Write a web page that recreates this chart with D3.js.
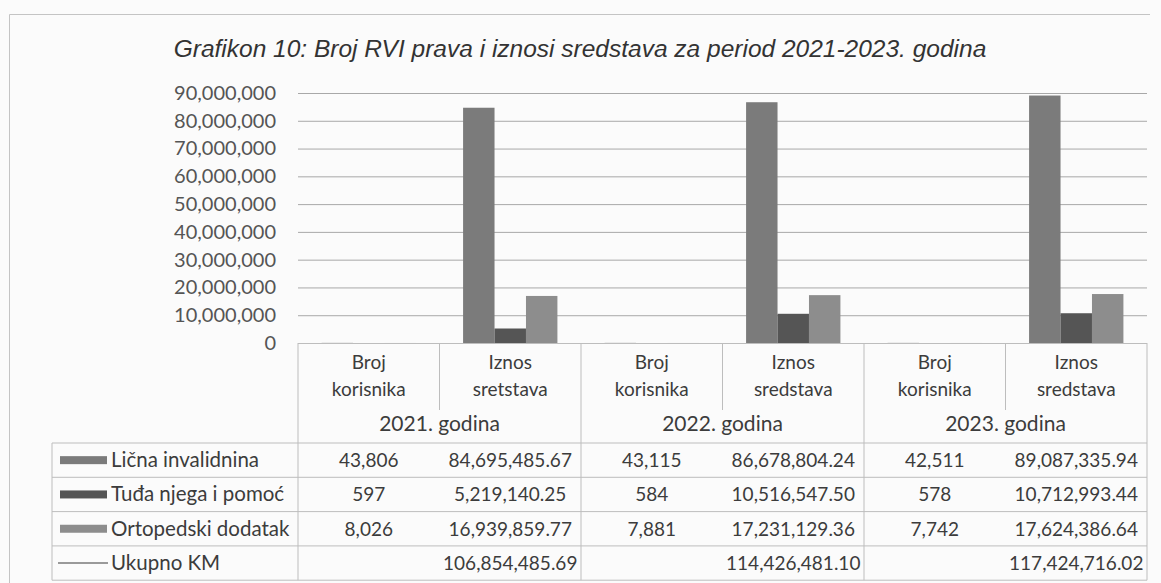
<!DOCTYPE html>
<html lang="bs">
<head>
<meta charset="UTF-8">
<title>Grafikon 10</title>
<script src="https://d3js.org/d3.v7.min.js"></script>
<style>
  body { margin: 0; background: #fbfbfb; }
  svg { display: block; }
  .tick text { font-family: Lato, "Open Sans", sans-serif; }
</style>
</head>
<body>
<svg id="chart" width="1161" height="583"></svg>
<script>
// podaci
const years = ["2021. godina", "2022. godina", "2023. godina"];
const columns = [
  ["Broj", "korisnika"], ["Iznos", "sretstava"],
  ["Broj", "korisnika"], ["Iznos", "sredstava"],
  ["Broj", "korisnika"], ["Iznos", "sredstava"]
];
const seriesNames = ["Lična invalidnina", "Tuđa njega i pomoć", "Ortopedski dodatak"];
const licna = [43806, 84695485.67, 43115, 86678804.24, 42511, 89087335.94];
const tudja = [597, 5219140.25, 584, 10516547.50, 578, 10712993.44];
const orto = [8026, 16939859.77, 7881, 17231129.36, 7742, 17624386.64];
const ukupno = [null, 106854485.69, null, 114426481.10, null, 117424716.02];
const yTicks = [0, 10e6, 20e6, 30e6, 40e6, 50e6, 60e6, 70e6, 80e6, 90e6];

const colors = ["#7b7b7b", "#555555", "#8d8d8d"];
const series = [licna, tudja, orto];

const svg = d3.select("#chart");
const plotL = 298, plotR = 1147, plotT = 93, base = 343;

// okvir
svg.append("path")
  .attr("d", "M9.5,583V14.5H1150")
  .attr("fill", "none").attr("stroke", "#c4c4c4");

svg.append("text")
  .attr("x", 580).attr("y", 57)
  .attr("text-anchor", "middle")
  .attr("font-family", "'Liberation Sans', Arial, sans-serif")
  .attr("font-style", "italic")
  .attr("font-size", 24.5)
  .attr("fill", "#333")
  .text("Grafikon 10: Broj RVI prava i iznosi sredstava za period 2021-2023. godina");

const y = d3.scaleLinear().domain([0, 90e6]).range([base, plotT]);
const x = d3.scaleBand().domain(d3.range(columns.length)).range([plotL, plotR]);
const xs = d3.scaleBand().domain(seriesNames).range([0, x.bandwidth()])
  .paddingInner(0).paddingOuter(0.75);

// mreža i osa
const yAxis = svg.append("g")
  .attr("transform", `translate(${plotL},0)`)
  .call(d3.axisLeft(y).tickValues(yTicks).tickFormat(d3.format(",")).tickSize(-(plotR - plotL)).tickPadding(22));
yAxis.select(".domain").remove();
yAxis.selectAll(".tick line").attr("stroke", "#a8a8a8");
yAxis.selectAll(".tick text").attr("font-size", 20).attr("fill", "#555");

// stubići
seriesNames.forEach((name, s) => {
  svg.append("g").selectAll("rect")
    .data(series[s])
    .join("rect")
    .attr("x", (d, i) => x(i) + xs(name))
    .attr("width", xs.bandwidth())
    .attr("y", d => y(d))
    .attr("height", d => base - y(d))
    .attr("fill", colors[s]);
});

// tabela podataka
const tbl = svg.append("g")
  .attr("font-family", "Lato, 'Open Sans', sans-serif")
  .attr("font-size", 19)
  .attr("fill", "#3c3c3c");
const lineCol = "#bdbdbd";
const rowTop = 443, rowH = 34.3, tblLeft = 52;
const rowsY = d3.range(5).map(r => rowTop + r * rowH);

function hline(x1, x2, yy) {
  tbl.append("line").attr("x1", x1).attr("x2", x2).attr("y1", yy).attr("y2", yy)
    .attr("stroke", lineCol);
}
function vline(xx, y1, y2) {
  tbl.append("line").attr("x1", xx).attr("x2", xx).attr("y1", y1).attr("y2", y2)
    .attr("stroke", lineCol);
}

hline(plotL, plotR, base + 0.5);
rowsY.forEach(r => hline(tblLeft, plotR, r));
vline(tblLeft, rowTop, rowsY[4]);
d3.range(columns.length + 1).forEach(i => {
  const xx = i < columns.length ? x(i) : plotR;
  if (i % 2 === 0) vline(xx, base, rowsY[4]);
  else vline(xx, base, 410);
});

columns.forEach((c, i) => {
  const cx = x(i) + x.bandwidth() / 2;
  tbl.append("text").attr("x", cx).attr("y", 369).attr("text-anchor", "middle").text(c[0]);
  tbl.append("text").attr("x", cx).attr("y", 396).attr("text-anchor", "middle").text(c[1]);
});
years.forEach((yr, k) => {
  tbl.append("text").attr("x", x(k * 2 + 1)).attr("y", 431).attr("text-anchor", "middle")
    .attr("font-size", 21).text(yr);
});

const fmtInt = d3.format(","), fmtAmt = d3.format(",.2f");
const rows = [licna, tudja, orto, ukupno];
rows.forEach((vals, r) => {
  const cy = rowsY[r] + rowH / 2 + 7;
  vals.forEach((v, i) => {
    if (v == null) return;
    tbl.append("text").attr("x", x(i) + x.bandwidth() / 2).attr("y", cy)
      .attr("text-anchor", "middle")
      .text(i % 2 === 0 ? fmtInt(v) : fmtAmt(v));
  });
});

// legenda u tabeli
const legendNames = seriesNames.concat(["Ukupno KM"]);
legendNames.forEach((name, r) => {
  const cy = rowsY[r] + rowH / 2;
  if (r < 3) {
    tbl.append("rect").attr("x", 60).attr("y", cy - 4).attr("width", 47).attr("height", 8)
      .attr("fill", colors[r]);
  } else {
    tbl.append("line").attr("x1", 58).attr("x2", 108).attr("y1", cy).attr("y2", cy)
      .attr("stroke", "#9a9a9a").attr("stroke-width", 2);
  }
  tbl.append("text").attr("x", 111).attr("y", cy + 7).attr("font-size", 20.5).text(name);
});
</script>
</body>
</html>
